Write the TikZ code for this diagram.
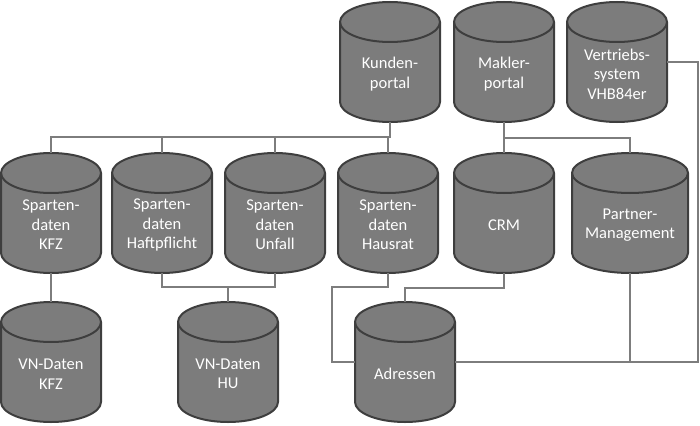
\documentclass[tikz,border=0pt]{standalone}
\usepackage{fontspec}
\setmainfont{Carlito}
\definecolor{dbgray}{RGB}{124,124,124}
\definecolor{dbedge}{RGB}{62,62,62}
\definecolor{wire}{RGB}{125,125,125}
\tikzset{
  dbfill/.style={fill=dbgray},
  dbline/.style={draw=dbedge, line width=2pt, line join=round},
  dbbox/.style={rectangle, draw=none, inner sep=0pt, minimum height=120pt},
  dbtext/.style={yshift=-12pt, text=white, align=center, font=\fontsize{16.5}{19.5}\selectfont},
  wireline/.style={draw=wire, line width=1.3pt}
}
\newcommand\dbcyl[5]{%
  \path[dbfill] (#2-#4/2,#3+20) -- (#2-#4/2,#3+100)
     arc[start angle=180,end angle=360,x radius={#4/2*1pt},y radius=20pt]
     -- (#2+#4/2,#3+20)
     arc[start angle=0,end angle=180,x radius={#4/2*1pt},y radius=20pt] -- cycle;
  \path[dbline] (#2-#4/2,#3+20) -- (#2-#4/2,#3+100)
     arc[start angle=180,end angle=360,x radius={#4/2*1pt},y radius=20pt]
     -- (#2+#4/2,#3+20)
     arc[start angle=0,end angle=180,x radius={#4/2*1pt},y radius=20pt] -- cycle;
  \path[dbline] (#2-#4/2,#3+20)
     arc[start angle=180,end angle=360,x radius={#4/2*1pt},y radius=20pt];
  \node[dbbox, minimum width=#4pt, label={[dbtext]center:{#5}}] (#1) at (#2,#3+60) {};
}
\begin{document}
\begin{tikzpicture}[x=1pt,y=-1pt]
\useasboundingbox (0,0) rectangle (700,425);
% cylinders
\dbcyl{kun}{390}{2}{100}{Kunden-\\portal}
\dbcyl{mak}{504}{2}{100}{Makler-\\portal}
\dbcyl{ver}{617}{2}{100}{Vertriebs-\\system\\VHB84er}
\dbcyl{kfz}{51}{153}{100}{Sparten-\\daten\\KFZ}
\dbcyl{hft}{162}{153}{100}{Sparten-\\daten\\Haftpflicht}
\dbcyl{unf}{275}{153}{100}{Sparten-\\daten\\Unfall}
\dbcyl{hau}{388}{153}{100}{Sparten-\\daten\\Hausrat}
\dbcyl{crm}{504}{153}{100}{CRM}
\dbcyl{par}{630}{153}{116}{Partner-\\Management}
\dbcyl{vnk}{51}{302}{100}{VN-Daten\\KFZ}
\dbcyl{vnh}{228}{302}{100}{VN-Daten\\HU}
\dbcyl{adr}{405}{302}{100}{Adressen}
% junction points
\coordinate (busK) at (390,137);
\coordinate (busM) at (504,138);
\coordinate (busH) at (228,287);
\coordinate (hl) at (332,287);
\coordinate (cl) at (405,288);
\coordinate (rr) at (698,362);
% connectors
\draw[wireline] (kun.south) -- (busK) -| (kfz.north);
\draw[wireline] (busK) -| (hft.north);
\draw[wireline] (busK) -| (unf.north);
\draw[wireline] (busK) -| (hau.north);
\draw[wireline] (mak.south) -- (crm.north);
\draw[wireline] (busM) -| (par.north);
\draw[wireline] (ver.east) -| (rr) -- (adr.east);
\draw[wireline] (par.south) -- (par.south |- adr.east);
\draw[wireline] (kfz.south) -- (vnk.north);
\draw[wireline] (hft.south) |- (busH);
\draw[wireline] (unf.south) |- (busH);
\draw[wireline] (busH) -- (vnh.north);
\draw[wireline] (hau.south) |- (hl) |- (adr.west);
\draw[wireline] (crm.south) |- (cl) -- (adr.north);
\end{tikzpicture}
\end{document}
